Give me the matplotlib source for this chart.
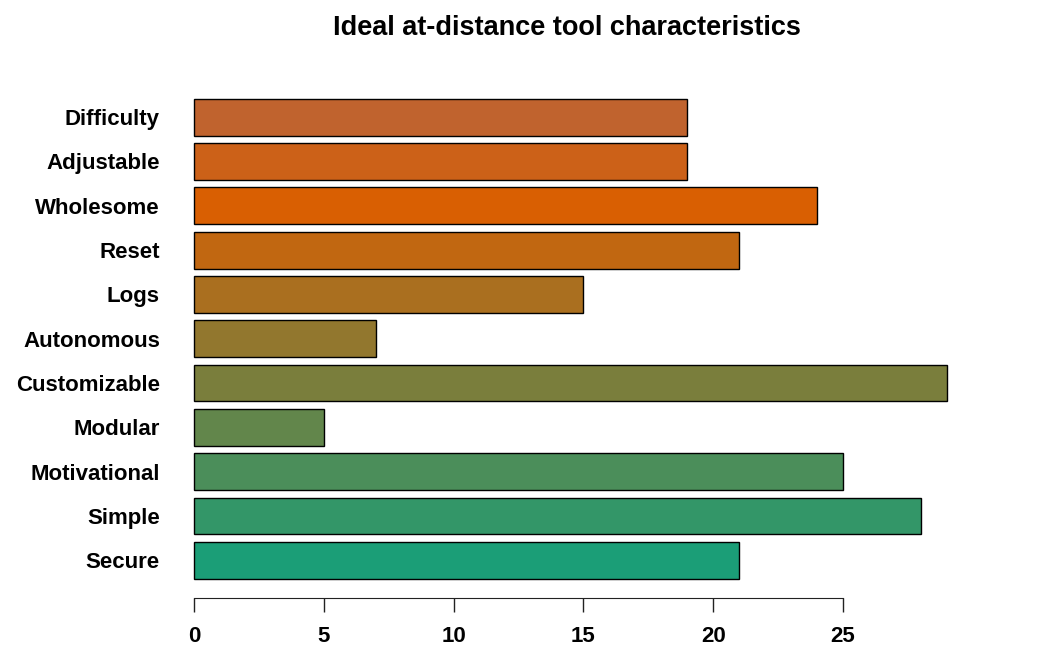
import numpy as np
from matplotlib import pyplot as plt

plt.rcParams['font.family'] = ['Liberation Sans', 'DejaVu Sans']

# bottom to top, as barplot draws them
labels = ['Secure', 'Simple', 'Motivational', 'Modular', 'Customizable',
          'Autonomous', 'Logs', 'Reset', 'Wholesome', 'Adjustable', 'Difficulty']
counts = [21, 28, 25, 5, 29, 7, 15, 21, 24, 19, 19]
colors = ['#1B9E77', '#339668', '#4B8E5A', '#62864B', '#7A7E3C', '#92772E',
          '#AA6F1F', '#C16711', '#D95F02', '#CC6118', '#C0632E']

W, H = 1059, 648
fig = plt.figure(figsize=(W / 100, H / 100), dpi=100)
ax = fig.add_axes([164 / W, (H - 598) / H, (977 - 164) / W, (598 - 79.4) / H])

ypos = 0.2 + np.arange(len(counts)) * 1.2 + 0.5
ax.barh(ypos, counts, height=1.0, color=colors, edgecolor='black', linewidth=1.0)

# R-style 4% padding on both axes
top = max(counts)
ax.set_xlim(-0.04 * top, top * 1.04)
ytot = len(counts) * 1.2
ax.set_ylim(0.2 - 0.04 * (ytot - 0.2), ytot + 0.04 * (ytot - 0.2))

ax.set_yticks(ypos)
ax.set_yticklabels(labels, fontsize=16, fontweight='bold')
ax.tick_params(axis='y', length=0, pad=3)

ax.set_xticks([0, 5, 10, 15, 20, 25])
ax.set_xticklabels(['0', '5', '10', '15', '20', '25'], fontsize=16, fontweight='bold')
ax.tick_params(axis='x', length=10, width=1, pad=10, color='#222222')

for s in ['top', 'right', 'left']:
    ax.spines[s].set_visible(False)
ax.spines['bottom'].set_bounds(0, 25)
ax.spines['bottom'].set_color('#222222')

fig.text(567 / W, 1 - 28 / H, 'Ideal at-distance tool characteristics',
         ha='center', va='center', fontsize=19.5, fontweight='bold')

fig.savefig('out.png', dpi=100)
